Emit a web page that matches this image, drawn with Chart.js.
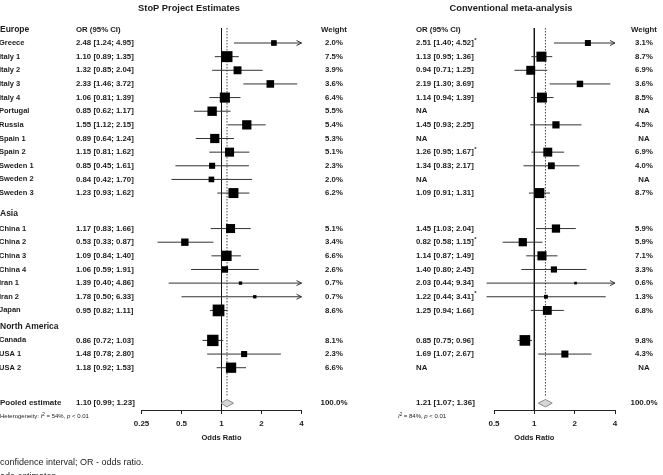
<!DOCTYPE html>
<html lang="en">
<head>
<meta charset="UTF-8" />
<title>StoP vs conventional meta-analysis</title>
<script src="https://cdn.jsdelivr.net/npm/chart.js"></script>
<style>
  html, body { margin: 0; padding: 0; background: #fff; }
  #wrap { position: relative; width: 663px; height: 475px; overflow: hidden; }
  #wrap canvas { position: absolute; left: 0; top: 0; }
</style>
</head>
<body>
<div id="wrap">
  <canvas id="left" width="663" height="475"></canvas>
  <canvas id="right" width="663" height="475"></canvas>
</div>
<script>
// ---- data ----
const regions = ['Europe', 'Asia', 'North America'];
const studies = ['Greece', 'Italy 1', 'Italy 2', 'Italy 3', 'Italy 4', 'Portugal', 'Russia', 'Spain 1',
  'Spain 2', 'Sweden 1', 'Sweden 2', 'Sweden 3', 'China 1', 'China 2', 'China 3', 'China 4',
  'Iran 1', 'Iran 2', 'Japan', 'Canada', 'USA 1', 'USA 2'];

// StoP Project estimates
const stopOR = [2.48, 1.10, 1.32, 2.33, 1.06, 0.85, 1.55, 0.89, 1.15, 0.85, 0.84, 1.23,
  1.17, 0.53, 1.09, 1.06, 1.39, 1.78, 0.95, 0.86, 1.48, 1.18];
const stopLo = [1.24, 0.89, 0.85, 1.46, 0.81, 0.62, 1.12, 0.64, 0.81, 0.45, 0.42, 0.93,
  0.83, 0.33, 0.84, 0.59, 0.40, 0.50, 0.82, 0.72, 0.78, 0.92];
const stopHi = [4.95, 1.35, 2.04, 3.72, 1.39, 1.17, 2.15, 1.24, 1.62, 1.61, 1.70, 1.62,
  1.66, 0.87, 1.40, 1.91, 4.86, 6.33, 1.11, 1.03, 2.80, 1.53];
const stopWeight = [2.0, 7.5, 3.9, 3.6, 6.4, 5.5, 5.4, 5.3, 5.1, 2.3, 2.0, 6.2,
  5.1, 3.4, 6.6, 2.6, 0.7, 0.7, 8.6, 8.1, 2.3, 6.6];
const stopPooled = [1.10, 0.99, 1.23];
const stopI2 = '54%';

// conventional meta-analysis (null = NA)
const convOR = [2.51, 1.13, 0.94, 2.19, 1.14, null, 1.45, null, 1.26, 1.34, null, 1.09,
  1.45, 0.82, 1.14, 1.40, 2.03, 1.22, 1.25, 0.85, 1.69, null];
const convLo = [1.40, 0.95, 0.71, 1.30, 0.94, null, 0.93, null, 0.95, 0.83, null, 0.91,
  1.03, 0.58, 0.87, 0.80, 0.44, 0.44, 0.94, 0.75, 1.07, null];
const convHi = [4.52, 1.36, 1.25, 3.69, 1.39, null, 2.25, null, 1.67, 2.17, null, 1.31,
  2.04, 1.15, 1.49, 2.45, 9.34, 3.41, 1.66, 0.96, 2.67, null];
const convWeight = [3.1, 8.7, 6.9, 3.6, 8.5, null, 4.5, null, 6.9, 4.0, null, 8.7,
  5.9, 5.9, 7.1, 3.3, 0.6, 1.3, 6.8, 9.8, 4.3, null];
const convStar = [1, 0, 0, 0, 0, 0, 0, 0, 1, 0, 0, 0, 0, 1, 0, 0, 0, 1, 0, 0, 0, 0];
const convPooled = [1.21, 1.07, 1.36];
const convI2 = '84%';

const leftTicks = [0.25, 0.5, 1, 2, 4];
const rightTicks = [0.5, 1, 2, 4];

// ---- layout (row slots on the hidden y scale) ----
const studyRow = [0, 1, 2, 3, 4, 5, 6, 7, 8, 9, 10, 11,
  13.6, 14.6, 15.6, 16.6, 17.6, 18.6, 19.6, 21.8, 22.8, 23.8];
const headerRow = [-1, 12.5, 20.8];
const pooledRow = 26.4;
const hetRow = 27.4;

const FF = '"Liberation Sans", Arial, sans-serif';
const F = {
  title: 'bold 9.3px ' + FF,
  head: 'bold 8.5px ' + FF,
  col: 'bold 7.8px ' + FF,
  row: 'bold 7.5px ' + FF,
  num: 'bold 7.8px ' + FF,
  pooled: 'bold 8px ' + FF,
  small: '6px ' + FF,
  smallI: 'italic 6px ' + FF,
  sup: '4.5px ' + FF,
  foot: '9px ' + FF,
  axis: 'bold 7.5px ' + FF
};
const INK = '#1c1c1c';

function txt(ctx, s, x, y, font, align) {
  ctx.font = font;
  ctx.textAlign = align || 'left';
  ctx.textBaseline = 'middle';
  ctx.fillStyle = INK;
  ctx.fillText(s, x, y);
  return ctx.measureText(s).width;
}

function ci(lo, hi) {
  return '[' + lo.toFixed(2) + '; ' + hi.toFixed(2) + ']';
}

function hetero(ctx, x, y, prefix, val) {
  const parts = [[prefix, F.small, 0], ['I', F.smallI, 0], ['2', F.sup, -2.5],
    [' = ' + val + ', ', F.small, 0], ['p', F.smallI, 0], [' < 0.01', F.small, 0]];
  parts.forEach(p => {
    x += txt(ctx, p[0], x, y + p[2], p[1]);
  });
}

function makePanel(id, p) {
  const xmax = p.ticks[p.ticks.length - 1];
  const squares = [], whiskers = [];
  p.or.forEach((v, i) => {
    if (v === null) return;
    squares.push({ x: v, y: studyRow[i], w: p.weight[i] });
    whiskers.push({ x: p.lo[i], y: studyRow[i] });
    whiskers.push({ x: Math.min(p.hi[i], xmax), y: studyRow[i] });
    whiskers.push({ x: p.lo[i], y: null });
  });
  const [pe, pl, ph] = p.pooled;

  const arrows = {
    id: 'arrows',
    afterDatasetsDraw(chart) {
      const ctx = chart.ctx, xs = chart.scales.x, ys = chart.scales.y;
      ctx.save();
      ctx.strokeStyle = '#333';
      ctx.lineWidth = 1;
      p.hi.forEach((h, i) => {
        if (h === null || h <= xmax) return;
        const tx = xs.getPixelForValue(xmax), ty = ys.getPixelForValue(studyRow[i]);
        ctx.beginPath();
        ctx.moveTo(tx - 5, ty - 2.5);
        ctx.lineTo(tx, ty);
        ctx.lineTo(tx - 5, ty + 2.5);
        ctx.stroke();
      });
      ctx.restore();
    }
  };

  const texts = {
    id: 'texts',
    afterDraw(chart) {
      const ctx = chart.ctx, ys = chart.scales.y, xs = chart.scales.x;
      const Y = v => ys.getPixelForValue(v);
      ctx.save();
      txt(ctx, p.title, p.titleX, 8, F.title, 'center');
      txt(ctx, 'OR (95% CI)', p.orX, Y(headerRow[0]), F.col);
      txt(ctx, 'Weight', p.wX, Y(headerRow[0]), F.col, 'center');
      p.or.forEach((v, i) => {
        const r = Y(studyRow[i]);
        if (v === null) {
          txt(ctx, 'NA', p.orX, r, F.num);
          txt(ctx, 'NA', p.wX, r, F.num, 'center');
          return;
        }
        txt(ctx, v.toFixed(2), p.orX, r, F.num);
        const w = txt(ctx, ci(p.lo[i], p.hi[i]), p.orX + 17.5, r, F.num);
        if (p.star && p.star[i]) txt(ctx, '*', p.orX + 17.5 + w + 0.5, r - 3, 'bold 6px ' + FF);
        txt(ctx, p.weight[i].toFixed(1) + '%', p.wX, r, F.num, 'center');
      });
      const pr = Y(pooledRow);
      txt(ctx, pe.toFixed(2), p.orX, pr, F.pooled);
      txt(ctx, ci(pl, ph), p.orX + 17.5, pr, F.pooled);
      txt(ctx, '100.0%', p.wX, pr, F.pooled, 'center');
      hetero(ctx, p.hetX, Y(hetRow), p.hetPrefix, p.i2);
      txt(ctx, 'Odds Ratio', xs.getPixelForValue(1), 438, F.axis, 'center');
      if (p.extra) p.extra(ctx, Y);
      ctx.restore();
    }
  };

  return new Chart(document.getElementById(id), {
    type: 'line',
    data: {
      datasets: [
        {
          data: squares, showLine: false, order: 0, clip: false,
          pointStyle: 'rect', backgroundColor: '#000', borderWidth: 0,
          pointRadius: c => (c.raw ? p.k * Math.sqrt(c.raw.w) / Math.SQRT2 : 0),
          pointHoverRadius: c => (c.raw ? p.k * Math.sqrt(c.raw.w) / Math.SQRT2 : 0)
        },
        {
          data: whiskers, order: 1, clip: false, spanGaps: false,
          borderColor: '#333', borderWidth: 1, pointRadius: 0
        },
        {
          data: [{ x: pl, y: pooledRow }, { x: pe, y: pooledRow - 0.27 }, { x: ph, y: pooledRow },
            { x: pe, y: pooledRow + 0.27 }, { x: pl, y: pooledRow }],
          order: 2, fill: 'shape', backgroundColor: '#d6d6d6', borderColor: '#8a8a8a',
          borderWidth: 1, pointRadius: 0
        },
        {
          data: [{ x: pe, y: -1.1 }, { x: pe, y: 25.9 }], order: 3,
          borderColor: '#444', borderWidth: 1, borderDash: [1.5, 1.5], pointRadius: 0
        },
        {
          data: [{ x: 1, y: -1.1 }, { x: 1, y: 26.9 }], order: 4,
          borderColor: '#111', borderWidth: 1, pointRadius: 0
        }
      ]
    },
    options: {
      responsive: false,
      animation: false,
      events: [],
      devicePixelRatio: 1,
      layout: { padding: { left: p.left, right: 663 - p.right, top: 25.27, bottom: 45 } },
      plugins: { legend: { display: false }, tooltip: { enabled: false }, title: { display: false } },
      scales: {
        x: {
          type: 'logarithmic', min: p.ticks[0], max: xmax,
          afterFit: s => { s.height = 20; },
          afterBuildTicks: s => { s.ticks = p.ticks.map(v => ({ value: v })); },
          grid: { drawOnChartArea: false, drawTicks: true, tickLength: 4, color: '#222', lineWidth: 1 },
          border: { display: true, color: '#222', width: 1 },
          ticks: {
            autoSkip: false, maxRotation: 0, padding: 5, color: INK,
            font: { family: FF, size: 8, weight: 'bold' },
            callback: v => String(v)
          }
        },
        y: { type: 'linear', display: false, reverse: true, min: -1.3, max: 26.9 }
      }
    },
    plugins: [arrows, texts]
  });
}

makePanel('left', {
  or: stopOR, lo: stopLo, hi: stopHi, weight: stopWeight, pooled: stopPooled, i2: stopI2,
  ticks: leftTicks, left: 141.5, right: 301.5, k: 4,
  title: 'StoP Project Estimates', titleX: 189, orX: 76, wX: 334,
  hetX: 0, hetPrefix: 'Heterogeneity: ',
  extra: (ctx, Y) => {
    regions.forEach((r, k) => txt(ctx, r, 0, Y(headerRow[k]), F.head));
    studies.forEach((s, i) => txt(ctx, s, -1, Y(studyRow[i]), F.row));
    txt(ctx, 'Pooled estimate', 0, Y(pooledRow), F.pooled);
    txt(ctx, 'confidence interval; OR - odds ratio.', 0, 463, F.foot);
    txt(ctx, 'ade estimates', 0, 477, F.foot);
  }
});

makePanel('right', {
  or: convOR, lo: convLo, hi: convHi, weight: convWeight, pooled: convPooled, i2: convI2,
  star: convStar, ticks: rightTicks, left: 494, right: 615, k: 3.4,
  title: 'Conventional meta-analysis', titleX: 511, orX: 416, wX: 644,
  hetX: 398, hetPrefix: ''
});
</script>
</body>
</html>
